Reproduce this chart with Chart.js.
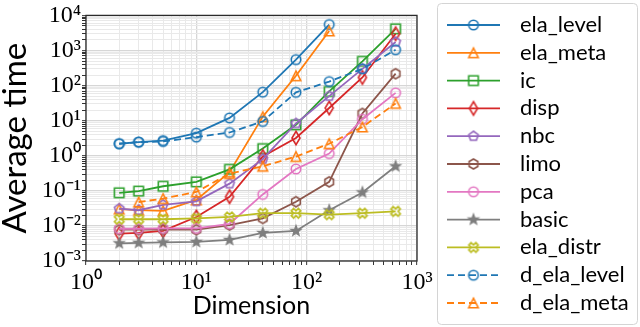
<!DOCTYPE html>
<html><head><meta charset="utf-8">
<script src="https://cdn.jsdelivr.net/npm/chart.js@4"></script>
<style>html,body{margin:0;padding:0;background:#fff}#wrap{width:640px;height:327px;position:relative}</style>
</head><body><div id="wrap"><canvas id="c"></canvas></div>
<script>
// ---- data ----
const dimensions = [2, 3, 5, 10, 20, 40, 80, 160, 320, 640];
const seriesNames = ['ela_level','ela_meta','ic','disp','nbc','limo','pca','basic','ela_distr','d_ela_level','d_ela_meta'];
const elaLevel  = [2.2, 2.45, 2.7, 4.4, 12, 65, 550, 5500, null, null];
const elaMeta   = [0.03, 0.028, 0.027, 0.055, 0.34, 13, 190, 3600, null, null];
const ic        = [0.088, 0.098, 0.135, 0.18, 0.41, 1.6, 7.6, 68, 490, 4150];
const disp      = [0.006, 0.0063, 0.0072, 0.018, 0.068, 0.95, 3.2, 23, 170, 3000];
const nbc       = [0.031, 0.028, 0.04, 0.05, 0.16, 0.8, 8.3, 50, 300, 1740];
const limo      = [0.0078, 0.0078, 0.008, 0.0078, 0.0106, 0.0164, 0.049, 0.18, 16, 218];
const pca       = [0.0083, 0.0083, 0.0085, 0.0085, 0.0115, 0.079, 0.42, 1.15, 11, 62];
const basic     = [0.0032, 0.0033, 0.0034, 0.0035, 0.004, 0.0063, 0.0072, 0.028, 0.09, 0.5];
const elaDistr  = [0.0155, 0.0155, 0.0155, 0.0164, 0.018, 0.023, 0.023, 0.021, 0.023, 0.026];
const dElaLevel = [2.2, 2.45, 2.55, 3.4, 4.6, 9.5, 64, 130, 300, 1050];
const dElaMeta  = [null, 0.048, 0.06, 0.093, 0.31, 0.5, 0.95, 2.2, 6.6, 31];
const xTickLabels = ['10⁰','10¹','10²','10³'];
const yTickLabels = ['10⁻³','10⁻²','10⁻¹','10⁰','10¹','10²','10³','10⁴'];
const xExpMin = 0, yExpMin = -3;

// ---- styles ----
const seriesValues = [elaLevel, elaMeta, ic, disp, nbc, limo, pca, basic, elaDistr, dElaLevel, dElaMeta];
const colors = ['#1f77b4','#ff7f0e','#2ca02c','#d62728','#9467bd','#8c564b','#e377c2','#7f7f7f','#bcbd22','#1f77b4','#ff7f0e'];
const shapes = ['o','^','s','d','p','h','o','*','X','o','^'];
const dashed = [false,false,false,false,false,false,false,false,false,true,true];

function makeMarker(shape, color) {
  const S = 22, c = document.createElement('canvas');
  c.width = S; c.height = S;
  const g = c.getContext('2d');
  g.translate(S/2, S/2);
  const ms = 9.5, r = ms/2;
  g.beginPath();
  const poly = (n, rad) => { for (let k = 0; k < n; k++) { const a = -Math.PI/2 + k*2*Math.PI/n; const px = rad*Math.cos(a), py = rad*Math.sin(a); k ? g.lineTo(px,py) : g.moveTo(px,py); } g.closePath(); };
  let fill = false;
  switch (shape) {
    case 'o': g.arc(0,0,r,0,2*Math.PI); break;
    case '^': g.moveTo(0,-r); g.lineTo(-r,r); g.lineTo(r,r); g.closePath(); break;
    case 's': g.rect(-r,-r,ms,ms); break;
    case 'd': { const h = r*Math.SQRT2, w = h*0.6; g.moveTo(0,-h); g.lineTo(w,0); g.lineTo(0,h); g.lineTo(-w,0); g.closePath(); } break;
    case 'p': poly(5, r*1.05); break;
    case 'h': poly(6, r*1.05); break;
    case '*': { const R = r*1.02, ri = R*0.42; for (let k = 0; k < 10; k++) { const a = -Math.PI/2 + k*Math.PI/5; const rr = k%2 ? ri : R; k ? g.lineTo(rr*Math.cos(a), rr*Math.sin(a)) : g.moveTo(rr*Math.cos(a), rr*Math.sin(a)); } g.closePath(); fill = true; } break;
    case 'X': { const pts = [[-1,-2],[0,-1],[1,-2],[2,-1],[1,0],[2,1],[1,2],[0,1],[-1,2],[-2,1],[-1,0],[-2,-1]]; pts.forEach((p,k)=>{ const px = p[0]/2*r, py = p[1]/2*r; k ? g.lineTo(px,py) : g.moveTo(px,py); }); g.closePath(); } break;
  }
  if (fill) { g.fillStyle = color; g.fill(); }
  g.lineWidth = 1.6; g.strokeStyle = color; g.lineJoin = 'miter'; g.stroke();
  return c;
}
const markers = shapes.map((s,i) => makeMarker(s, colors[i]));

const n = seriesNames.length;
const datasets = seriesNames.map((name, i) => ({
  label: name,
  data: seriesValues[i],
  borderColor: colors[i],
  backgroundColor: colors[i],
  borderWidth: 1.8,
  borderDash: dashed[i] ? [7,4] : [],
  pointStyle: markers[i],
  pointRadius: 5,
  pointHoverRadius: 5,
  tension: 0,
  fill: false,
  spanGaps: false,
  order: n - i
}));

function decadeTicks(e0, e1) {
  const t = [];
  for (let e = e0; e < e1; e++) for (let m = 1; m < 10; m++) t.push({value: +(m * Math.pow(10, e)).toPrecision(3)});
  t.push({value: Math.pow(10, e1)});
  return t;
}
const isMajor = v => Math.abs(Math.log10(v) - Math.round(Math.log10(v))) < 1e-9;
const labelFor = (v, labels, e0) => isMajor(v) ? (labels[Math.round(Math.log10(v)) - e0] || '') : '';
const gridColor = c => (c.tick && isMajor(c.tick.value)) ? '#d6d6d6' : '#e9e9e9';
const gridWidth = c => (c.tick && isMajor(c.tick.value)) ? 1.3 : 1;

const framePlugin = {
  id: 'frame',
  afterDatasetsDraw(chart) {
    const {ctx, chartArea: a} = chart;
    ctx.save(); ctx.strokeStyle = '#2b2b2b'; ctx.lineWidth = 1.3;
    ctx.strokeRect(a.left, a.top, a.right - a.left, a.bottom - a.top);
    ctx.restore();
  }
};
const legendPlugin = {
  id: 'sideLegend',
  afterDraw(chart) {
    const ctx = chart.ctx;
    ctx.save();
    const bx = 437.5, by = 3.5, bw = 200, bh = 321;
    ctx.beginPath();
    ctx.roundRect(bx, by, bw, bh, 4);
    ctx.fillStyle = 'rgba(255,255,255,0.85)'; ctx.fill();
    ctx.strokeStyle = '#d4d4d4'; ctx.lineWidth = 1; ctx.stroke();
    ctx.font = '22px Lato';
    ctx.textBaseline = 'middle'; ctx.textAlign = 'left';
    chart.data.datasets.forEach((ds, i) => {
      const y = 25 + i * 27.8;
      ctx.beginPath();
      ctx.setLineDash(dashed[i] ? [7,4] : []);
      ctx.strokeStyle = colors[i]; ctx.lineWidth = 1.8;
      ctx.moveTo(447, y); ctx.lineTo(500, y); ctx.stroke();
      ctx.setLineDash([]);
      const m = markers[i];
      ctx.drawImage(m, 473.5 - m.width/2, y - m.height/2);
      ctx.fillStyle = '#000';
      ctx.fillText(ds.label, 520, y);
    });
    ctx.restore();
  }
};

new Chart(document.getElementById('c'), {
  type: 'line',
  data: { labels: dimensions, datasets },
  options: {
    responsive: true, maintainAspectRatio: false, animation: false, events: [],
    layout: { padding: { top: 15, right: 223, left: 0, bottom: 0 } },
    plugins: { legend: { display: false }, tooltip: { enabled: false } },
    scales: {
      x: {
        type: 'logarithmic', min: 1, max: 1000,
        afterBuildTicks: s => { s.ticks = decadeTicks(0, 3); },
        afterFit: s => { s.height = 66; },
        ticks: { autoSkip: false, maxRotation: 0, padding: 3, color: '#000',
          font: { family: 'Liberation Serif', size: 24 },
          callback: v => labelFor(v, xTickLabels, xExpMin) },
        grid: { color: gridColor, lineWidth: gridWidth, tickLength: 4, tickColor: '#333', tickWidth: 1 },
        border: { display: false },
        title: { display: true, text: 'Dimension', color: '#000', font: { family: 'Lato', size: 25 }, padding: { top: 0, bottom: 6 } }
      },
      y: {
        type: 'logarithmic', min: 0.001, max: 10000,
        afterBuildTicks: s => { s.ticks = decadeTicks(-3, 4); },
        afterFit: s => { s.width = 86; },
        ticks: { autoSkip: false, padding: 1, color: '#000',
          font: { family: 'Liberation Serif', size: 24 },
          callback: v => labelFor(v, yTickLabels, yExpMin) },
        grid: { color: gridColor, lineWidth: gridWidth, tickLength: 4, tickColor: '#333', tickWidth: 1 },
        border: { display: false },
        title: { display: true, text: 'Average time', color: '#000', font: { family: 'Lato', size: 33 }, padding: { top: -4, bottom: 0 } }
      }
    }
  },
  plugins: [framePlugin, legendPlugin]
});
</script></body></html>
